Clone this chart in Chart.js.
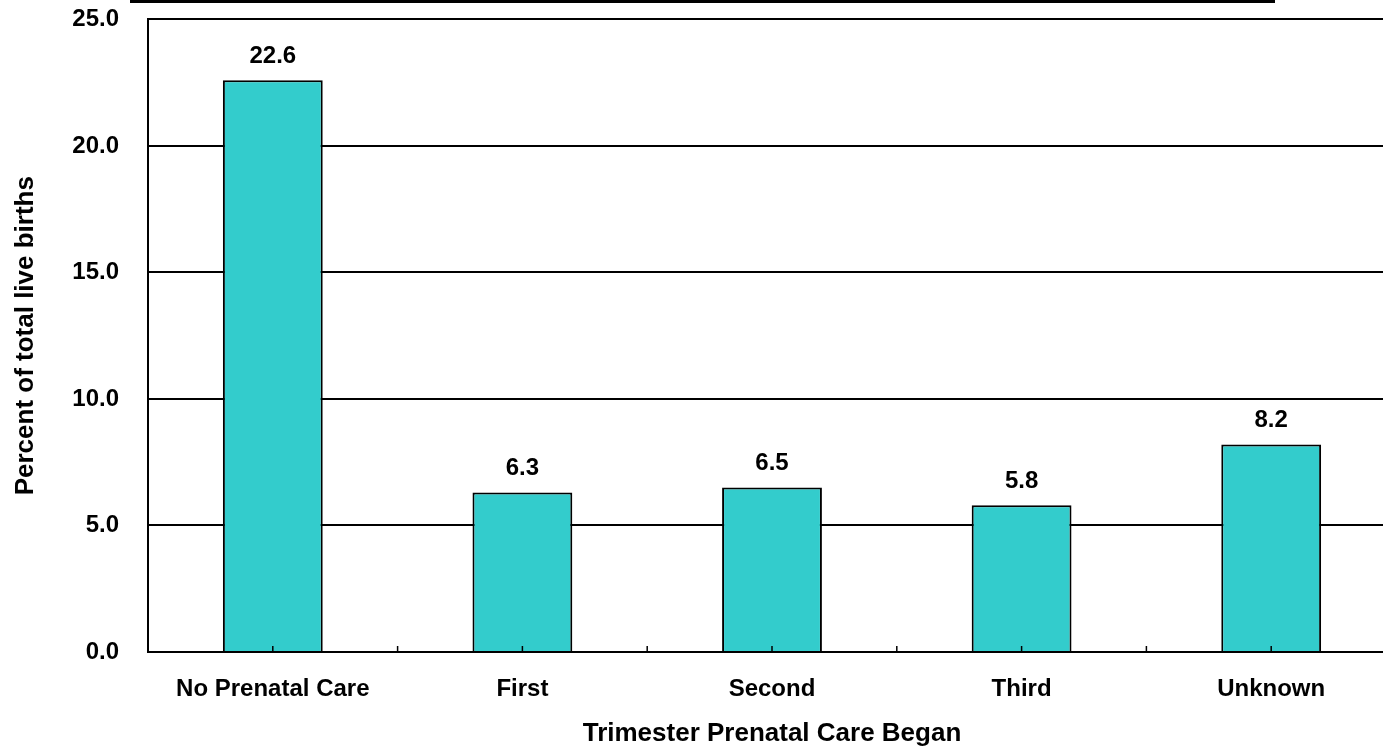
<!DOCTYPE html>
<html>
<head>
<meta charset="utf-8">
<script src="https://cdn.jsdelivr.net/npm/chart.js@4/dist/chart.umd.min.js"></script>
<style>
  html, body { margin: 0; padding: 0; background: #fff; overflow: hidden; width: 1383px; height: 749px; }
  #wrap { position: absolute; left: 0; top: -24px; width: 1400px; height: 773px; }
  #topline { position: absolute; left: 130px; top: 0; width: 1145px; height: 3px; background: #000; z-index: 2; }
</style>
</head>
<body>
<div id="wrap"><canvas id="c"></canvas></div>
<div id="topline"></div>
<script>
const categories = ['No Prenatal Care', 'First', 'Second', 'Third', 'Unknown'];
const values = [22.6, 6.3, 6.5, 5.8, 8.2];
const yMin = 0, yMax = 25, yStep = 5;
const xTitle = 'Trimester Prenatal Care Began';
const yTitle = 'Percent of total live births';

const FONT = '"Liberation Sans", Arial, sans-serif';

const xTicksPlugin = {
  id: 'xTicks',
  afterDatasetsDraw(chart) {
    const xs = chart.scales.x;
    const ctx = chart.ctx;
    const y0 = chart.chartArea.bottom;
    ctx.save();
    ctx.strokeStyle = '#000';
    ctx.lineWidth = 1.5;
    const n = categories.length;
    const xsPos = [];
    for (let i = 0; i < n; i++) xsPos.push(xs.getPixelForValue(i));
    const half = n > 1 ? (xsPos[1] - xsPos[0]) / 2 : 0;
    const marks = [];
    for (let i = 0; i < n; i++) {
      marks.push(xsPos[i]);
      marks.push(xsPos[i] + half);
    }
    ctx.beginPath();
    marks.forEach(x => { ctx.moveTo(x, y0); ctx.lineTo(x, y0 - 6); });
    ctx.stroke();
    ctx.restore();
  }
};

const labelPlugin = {
  id: 'valueLabels',
  afterDatasetsDraw(chart) {
    const ctx = chart.ctx;
    const meta = chart.getDatasetMeta(0);
    ctx.save();
    ctx.fillStyle = '#000';
    ctx.font = 'bold 24px ' + FONT;
    ctx.textAlign = 'center';
    ctx.textBaseline = 'middle';
    meta.data.forEach((bar, i) => {
      ctx.fillText(values[i].toFixed(1), bar.x, bar.y - 24);
    });
    ctx.restore();
  }
};

new Chart(document.getElementById('c'), {
  type: 'bar',
  data: {
    labels: categories,
    datasets: [{
      data: values,
      backgroundColor: '#33CCCC',
      borderColor: '#000',
      borderWidth: 2,
      categoryPercentage: 1,
      barPercentage: 0.4
    }]
  },
  options: {
    responsive: true,
    maintainAspectRatio: false,
    animation: false,
    layout: { padding: { top: 19, right: 4, left: 0, bottom: 0 } },
    plugins: { legend: { display: false }, tooltip: { enabled: false } },
    scales: {
      x: {
        grid: { display: false, drawTicks: false },
        border: { display: true, color: '#000', width: 2 },
        ticks: { color: '#000', font: { family: FONT, size: 24, weight: 'bold' }, padding: 23, maxRotation: 0, autoSkip: false },
        title: { display: true, text: xTitle, color: '#000', font: { family: FONT, size: 26, weight: 'bold' }, padding: { top: 0, bottom: 0 } },
        afterFit(scale) { scale.height = 97; }
      },
      y: {
        min: yMin, max: yMax,
        grid: { color: '#000', lineWidth: 2, drawTicks: false },
        border: { display: true, color: '#000', width: 2 },
        ticks: { stepSize: yStep, color: '#000', font: { family: FONT, size: 24, weight: 'bold' }, padding: 29, callback: v => Number(v).toFixed(1) },
        title: { display: true, text: yTitle, color: '#000', font: { family: FONT, size: 26, weight: 'bold' }, padding: { top: 10, bottom: 0 } },
        afterFit(scale) { scale.width = 148; }
      }
    }
  },
  plugins: [xTicksPlugin, labelPlugin]
});
</script>
</body>
</html>
